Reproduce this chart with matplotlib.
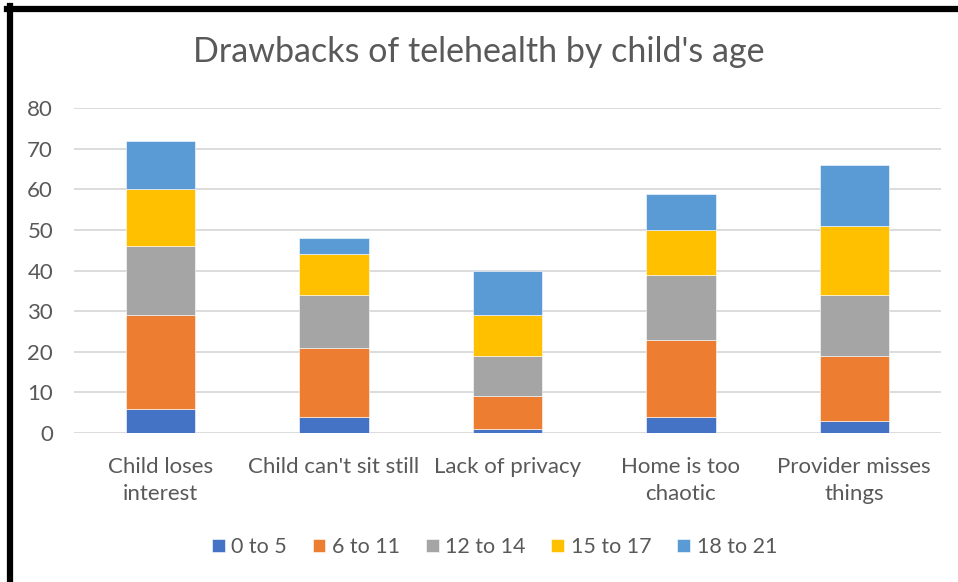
import numpy as np
import matplotlib
matplotlib.use("Agg")
import matplotlib.pyplot as plt
from matplotlib.lines import Line2D

plt.rcParams['font.family'] = ['Lato', 'DejaVu Sans']

categories = ["Child loses\ninterest", "Child can't sit still", "Lack of privacy",
              "Home is too\nchaotic", "Provider misses\nthings"]
age_groups = ["0 to 5", "6 to 11", "12 to 14", "15 to 17", "18 to 21"]
age_0_5 = [6, 4, 1, 4, 3]
age_6_11 = [23, 17, 8, 19, 16]
age_12_14 = [17, 13, 10, 16, 15]
age_15_17 = [14, 10, 10, 11, 17]
age_18_21 = [12, 4, 11, 9, 15]
colors = ["#4472C4", "#ED7D31", "#A5A5A5", "#FFC000", "#5B9BD5"]

series = [age_0_5, age_6_11, age_12_14, age_15_17, age_18_21]
text_col = "#595959"

fig = plt.figure(figsize=(9.58, 5.82), dpi=100)
ax = fig.add_axes([0.0772, 0.256, 0.905, 0.558])

x = np.arange(len(categories))
bottom = np.zeros(len(categories))
for vals, lab, col in zip(series, age_groups, colors):
    ax.bar(x, vals, 0.4, bottom=bottom, color=col, label=lab,
           edgecolor="white", linewidth=0.4, zorder=3)
    bottom += np.array(vals)

ax.set_xlim(-0.5, len(categories) - 0.5)
ax.set_ylim(0, 80)
ax.set_yticks(range(0, 81, 10))
ax.yaxis.grid(True, color="#D9D9D9", linewidth=1.3, zorder=0)
for s in ax.spines.values():
    s.set_visible(False)
ax.tick_params(length=0, labelsize=16, colors=text_col)
ax.tick_params(axis='y', pad=15)
ax.tick_params(axis='x', pad=17)
ax.set_xticks(x)
ax.set_xticklabels(categories, linespacing=1.45)

fig.text(0.5, 0.91, "Drawbacks of telehealth by child's age", ha="center",
         va="center", fontsize=24.5, color=text_col)

leg = fig.legend(loc="center", bbox_to_anchor=(0.516, 0.06), ncol=5,
                 frameon=False, fontsize=15.5, handlelength=0.6, handleheight=0.6,
                 handletextpad=0.3, columnspacing=1.2)
for t in leg.get_texts():
    t.set_color(text_col)

# black frame on left and top
fig.add_artist(Line2D([0.0104, 0.0104], [0, 0.9897], color="black",
                      linewidth=4.5, transform=fig.transFigure))
fig.add_artist(Line2D([0.0073, 1.0], [0.984, 0.984], color="black",
                      linewidth=4.5, transform=fig.transFigure))

fig.savefig("out.png", dpi=100, facecolor="white")
